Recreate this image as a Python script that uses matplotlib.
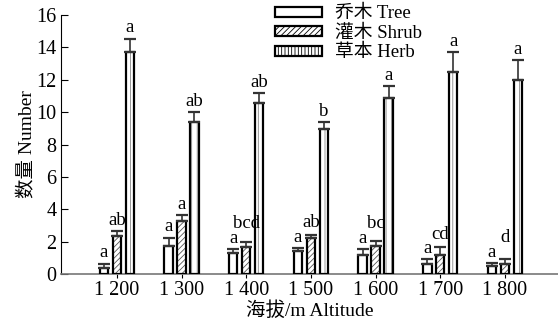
import numpy as np
import matplotlib
matplotlib.use('Agg')
import matplotlib.pyplot as plt
from matplotlib.patches import Patch

plt.rcParams['font.family'] = ['Liberation Serif', 'Noto Sans CJK SC']
plt.rcParams['hatch.linewidth'] = 0.6

# 数据
altitudes = ['1 200', '1 300', '1 400', '1 500', '1 600', '1 700', '1 800']
tree = [0.35, 1.75, 1.3, 1.45, 1.2, 0.65, 0.5]
tree_err = [0.3, 0.5, 0.25, 0.15, 0.35, 0.25, 0.2]
shrub = [2.35, 3.25, 1.65, 2.2, 1.75, 1.2, 0.6]
shrub_err = [0.3, 0.4, 0.3, 0.2, 0.3, 0.45, 0.3]
herb = [13.7, 9.4, 10.55, 8.95, 10.85, 12.5, 12.0]
herb_err = [0.85, 0.6, 0.65, 0.45, 0.75, 1.2, 1.2]
tree_sig = ['a', 'a', 'a', 'a', 'a', 'a', 'a']
shrub_sig = ['ab', 'a', 'bcd', 'ab', 'bc', 'cd', 'd']
herb_sig = ['a', 'ab', 'ab', 'b', 'a', 'a', 'a']
labels = ['乔木 Tree', '灌木 Shrub', '草本 Herb']

fig = plt.figure(figsize=(5.58, 3.27), dpi=100)
ax = fig.add_axes([0.109, 0.162, 0.891, 0.792])

x = np.arange(len(altitudes))
w = 0.13
off = 0.2
pad = 0.38
series = [(tree, tree_err, tree_sig, '', '#555555'),
          (shrub, shrub_err, shrub_sig, '//////', '#555555'),
          (herb, herb_err, herb_sig, '|||', '#888888')]

tree_txt_y = [v + e + pad for v, e in zip(tree, tree_err)]
for i, (vals, err, sig, hatch, hc) in enumerate(series):
    pos = x + (i - 1) * off
    ax.bar(pos, vals, w, color='white', edgecolor=hc, hatch=hatch,
           linewidth=0, zorder=2)
    # 黑色边框
    ax.bar(pos, vals, w, fill=False, edgecolor='black', linewidth=1.6, zorder=3)
    ax.errorbar(pos, vals, yerr=[np.zeros(len(vals)), err], fmt='none',
                ecolor='#333333', elinewidth=1.2, capsize=4.5, capthick=1.6, zorder=4)
    for j, (p, v, e, s) in enumerate(zip(pos, vals, err, sig)):
        ty = v + e + pad
        if i == 1:  # 灌木字母避开乔木字母
            ty = max(ty, tree_txt_y[j] + 0.9)
        ax.text(p, ty, s, ha='center', va='baseline', fontsize=13.5)

ax.set_xlim(-0.866, 6.82)
ax.set_ylim(0, 16)
ax.set_yticks(range(0, 17, 2))
ax.set_xticks(x)
ax.set_xticklabels(altitudes)
ax.tick_params(axis='y', direction='in', length=5, labelsize=14.5, width=0.8, pad=3)
ax.tick_params(axis='x', direction='out', length=3, labelsize=14.5, width=0.8, pad=2)
ax.spines['top'].set_visible(False)
ax.spines['right'].set_visible(False)
ax.spines['bottom'].set_color('#777777')
ax.spines['bottom'].set_linewidth(1.2)
ax.spines['left'].set_linewidth(0.8)

ax.set_xlabel('海拔/m Altitude', fontsize=14, labelpad=1)
ax.set_ylabel('数量 Number', fontsize=14, labelpad=0)

# 图例
handles = [Patch(facecolor='white', edgecolor='black', linewidth=1.6, hatch=h)
           for h in ['', '//////', '|||||']]
leg = ax.legend(handles, labels, loc='upper left', bbox_to_anchor=(0.49, 0.99),
                bbox_transform=fig.transFigure, frameon=False, fontsize=13.5,
                handlelength=2.5, handleheight=0.45, labelspacing=0.12,
                borderpad=0.1, borderaxespad=0, handletextpad=0.7)

fig.savefig('out.png', dpi=100)
